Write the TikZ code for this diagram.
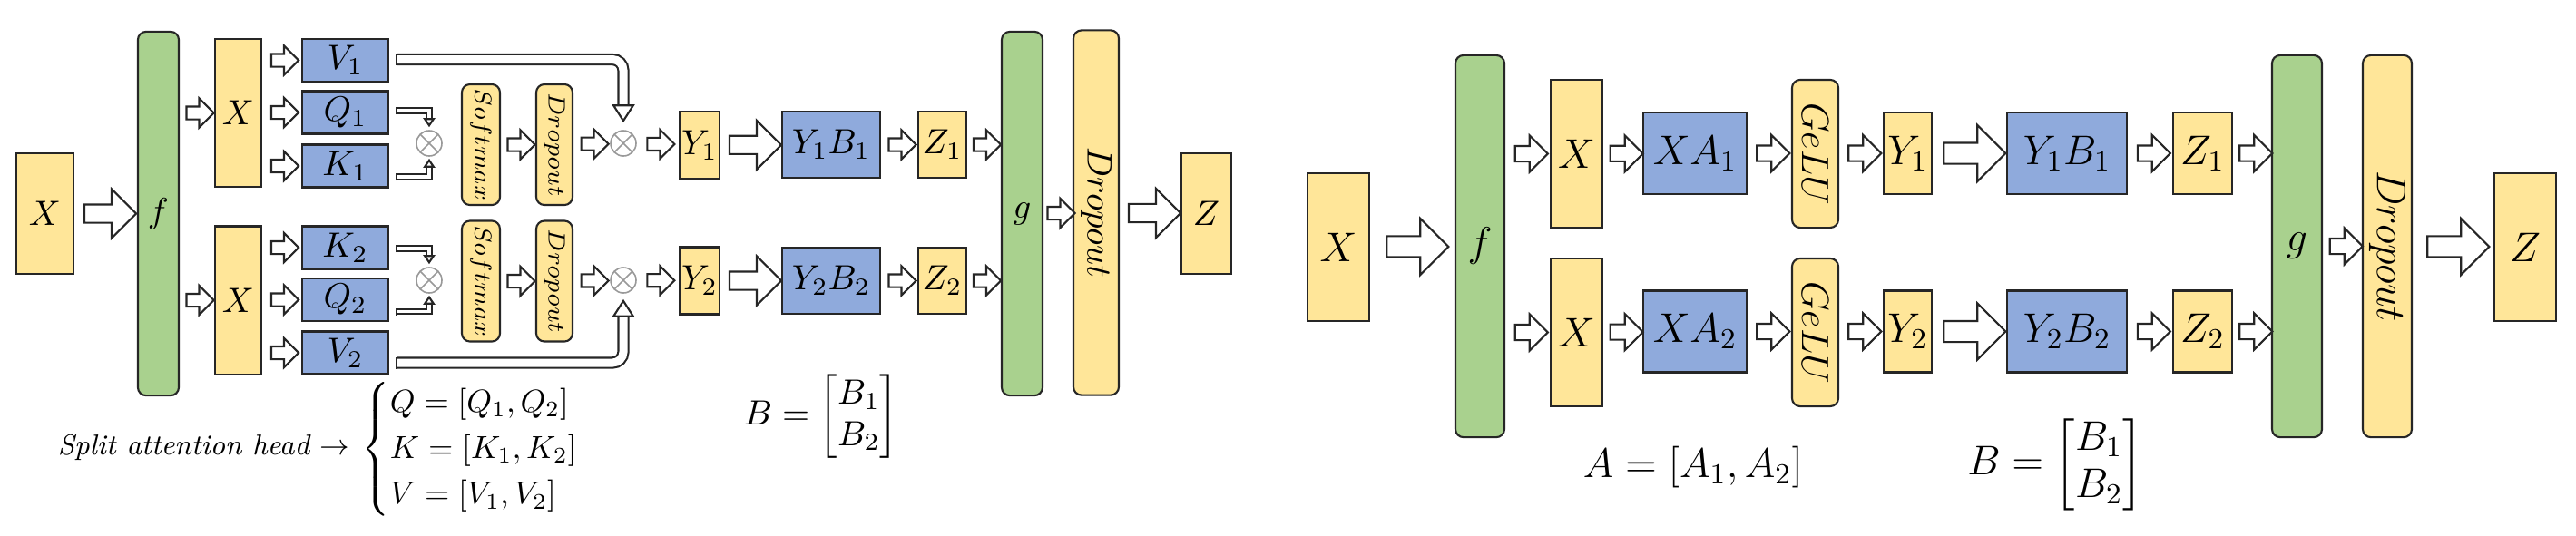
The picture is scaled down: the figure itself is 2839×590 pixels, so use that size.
\documentclass[tikz,border=0pt]{standalone}
\usepackage{fix-cm}
\usepackage{amsmath}
\usepackage{graphicx}
\usepackage{tikz}
\usetikzlibrary{shapes.arrows,arrows.meta,calc}

\definecolor{boxyellow}{HTML}{FFE699}
\definecolor{boxblue}{HTML}{8FAADC}
\definecolor{boxgreen}{HTML}{A9D18E}
\definecolor{edge}{HTML}{262626}

\newcommand{\lsize}{\fontsize{11}{13}\selectfont}
\newcommand{\rsize}{\fontsize{13}{15}\selectfont}
\newcommand{\vtxt}[1]{\rotatebox{-90}{$#1$}}

\begin{document}
\begin{tikzpicture}[
  x=0.01cm, y=-0.01cm,
  sz/.style 2 args={minimum width=#1cm, minimum height=#2cm},
  cell/.style={draw=edge, line width=0.6pt, inner sep=0pt, font=\lsize},
  ybox/.style={cell, fill=boxyellow},
  bbox/.style={cell, fill=boxblue},
  gbar/.style={cell, fill=boxgreen, rounded corners=0.09cm},
  ybar/.style={cell, fill=boxyellow, rounded corners=0.09cm},
  big/.style={font=\rsize},
  mult/.style={circle, draw=gray!80, line width=0.45pt, minimum size=0.28cm, inner sep=0pt,
    path picture={\draw[gray!80, line width=0.45pt]
      (path picture bounding box.south west) -- (path picture bounding box.north east)
      (path picture bounding box.north west) -- (path picture bounding box.south east);}},
  harr/.style={single arrow, draw=edge, fill=white, line width=0.6pt, inner xsep=0pt},
  sarr/.style={harr, minimum height=0.30cm, inner ysep=0.06cm, single arrow head extend=0.09cm},
  barr/.style={harr, minimum height=0.57cm, inner ysep=0.09cm, single arrow head extend=0.17cm},
  sarrr/.style={harr, minimum height=0.36cm, inner ysep=0.075cm, single arrow head extend=0.115cm},
  barrr/.style={harr, minimum height=0.68cm, inner ysep=0.105cm, single arrow head extend=0.195cm},
  vlink/.style={draw=edge, line width=0.6pt, double=white, double distance=0.09cm, rounded corners=0.12cm,
    {Bar[width=0.13cm, line width=0.6pt]}-{Triangle[length=0.20cm, width=0.25cm, line width=0.6pt, fill=white]}},
  qklink/.style={draw=edge, line width=0.6pt, double=white, double distance=0.035cm,
    {Bar[width=0.08cm, line width=0.6pt]}-{Triangle[length=0.10cm, width=0.13cm, line width=0.6pt, fill=white]}}
]
\useasboundingbox (0,0) rectangle (2839,590);

% split attention heads
\node[ybox, sz={0.63}{1.33}] (xin) at (49.5,235.5) {$X$};
\node[gbar, sz={0.45}{4.01}] (f) at (174.5,235.5) {$f$};
\node[ybox, sz={0.51}{1.63}] (xu) at (262.5,124.5) {$X$};
\node[ybox, sz={0.51}{1.63}] (xl) at (262.5,331) {$X$};
\node[bbox, sz={0.95}{0.47}] (v1) at (380.5,66.5) {$V_1$};
\node[bbox, sz={0.95}{0.47}] (q1) at (380.5,124) {$Q_1$};
\node[bbox, sz={0.95}{0.47}] (k1) at (380.5,183) {$K_1$};
\node[bbox, sz={0.95}{0.47}] (k2) at (380.5,273) {$K_2$};
\node[bbox, sz={0.95}{0.47}] (q2) at (380.5,330.5) {$Q_2$};
\node[bbox, sz={0.95}{0.47}] (v2) at (380.5,389) {$V_2$};
\node[mult] (m1u) at (473,158) {};
\node[mult] (m1l) at (473,309) {};
\node[ybar, sz={0.42}{1.33}, font=\fontsize{7.5}{9}\selectfont] (sm1) at (530,159.5) {\vtxt{Softmax}};
\node[ybar, sz={0.42}{1.33}, font=\fontsize{7.5}{9}\selectfont] (sm2) at (530,310) {\vtxt{Softmax}};
\node[ybar, sz={0.40}{1.33}, font=\fontsize{7.5}{9}\selectfont] (dp1) at (611,159.5) {\vtxt{Dropout}};
\node[ybar, sz={0.40}{1.33}, font=\fontsize{7.5}{9}\selectfont] (dp2) at (611,310) {\vtxt{Dropout}};
\node[mult] (m2u) at (687,158) {};
\node[mult] (m2l) at (687,309) {};
\node[ybox, sz={0.44}{0.74}] (y1) at (771,160) {$Y_1$};
\node[ybox, sz={0.44}{0.74}] (y2) at (771,309.5) {$Y_2$};
\node[bbox, sz={1.08}{0.73}] (yb1) at (916,159.5) {$Y_1B_1$};
\node[bbox, sz={1.08}{0.73}] (yb2) at (916,309.5) {$Y_2B_2$};
\node[ybox, sz={0.53}{0.73}] (z1) at (1038.5,159.5) {$Z_1$};
\node[ybox, sz={0.53}{0.73}] (z2) at (1038.5,309.5) {$Z_2$};
\node[gbar, sz={0.45}{4.01}] (g) at (1126.5,235.5) {$g$};
\node[ybar, sz={0.50}{4.02}] (dp) at (1208,234.5) {\vtxt{Dropout}};
\node[ybox, sz={0.55}{1.33}] (z) at (1329.5,235.5) {$Z$};

\node[anchor=east, inner sep=0pt, font=\fontsize{9}{11}\selectfont\itshape] (split) at (386,493) {Split attention head $\rightarrow$};
\node[anchor=west, inner sep=0pt, font=\fontsize{10}{12}\selectfont] (qkv) at (398,495)
  {$\renewcommand{\arraystretch}{1.2}\left\{\begin{array}{@{}l@{}}
    Q=[Q_1,Q_2]\\ K=[K_1,K_2]\\ V=[V_1,V_2]\end{array}\right.$};
\node[font=\lsize] (beq) at (905,459) {$B=\begin{bmatrix}B_1\\ B_2\end{bmatrix}$};

\path (xin) -- node[barr]{} (f);
\path (f.east |- xu) -- node[sarr]{} (xu);
\path (f.east |- xl) -- node[sarr]{} (xl);
\foreach \a/\b in {xu/v1, xu/q1, xu/k1, xl/k2, xl/q2, xl/v2}
  \path (\a.east |- \b) -- node[sarr]{} (\b);
\draw[qklink, shorten >=0.03cm] ($(q1.east)+(7,-2)$) -| (m1u.north);
\draw[qklink, shorten >=0.02cm] ($(k1.east)+(7,12)$) -| (m1u.south);
\draw[qklink, shorten >=0.03cm] ($(k2.east)+(7,1)$) -| (m1l.north);
\draw[qklink, shorten >=0.02cm] ($(q2.east)+(7,13)$) -| (m1l.south);
\draw[vlink, shorten >=0.08cm] ($(v1.east)+(7,-1)$) -| (m2u.north);
\draw[vlink, shorten >=0.06cm] ($(v2.east)+(7,11)$) -| (m2l.south);
\foreach \i in {1,2} {
  \path (sm\i) -- node[sarr]{} (dp\i);
  \path (y\i) -- node[barr]{} (yb\i);
  \path (yb\i) -- node[sarr]{} (z\i);
  \path (z\i) -- node[sarr]{} (g.west |- z\i);
}
\path (dp1) -- node[sarr]{} (m2u);
\path (dp2) -- node[sarr]{} (m2l);
\path (m2u) -- node[sarr]{} (y1);
\path (m2l) -- node[sarr]{} (y2);
\path (g) -- node[sarr]{} (dp);
\path (dp) -- node[barr]{} (z);

% split MLP
\node[ybox, big, sz={0.68}{1.63}] (rxin) at (1475,272.5) {$X$};
\node[gbar, big, sz={0.54}{4.21}] (rf) at (1631,271.5) {$f$};
\node[ybox, big, sz={0.57}{1.63}] (rxu) at (1737.5,169.5) {$X$};
\node[ybox, big, sz={0.57}{1.63}] (rxl) at (1737.5,366.5) {$X$};
\node[bbox, big, sz={1.14}{0.90}] (xa1) at (1868,169) {$XA_1$};
\node[bbox, big, sz={1.14}{0.90}] (xa2) at (1868,365.5) {$XA_2$};
\node[ybar, sz={0.51}{1.63}, font=\fontsize{12}{14}\selectfont] (ge1) at (2000.5,169.5) {\vtxt{GeLU}};
\node[ybar, sz={0.51}{1.63}, font=\fontsize{12}{14}\selectfont] (ge2) at (2000.5,366.5) {\vtxt{GeLU}};
\node[ybox, big, sz={0.53}{0.90}] (ry1) at (2102.5,169) {$Y_1$};
\node[ybox, big, sz={0.53}{0.90}] (ry2) at (2102.5,365.5) {$Y_2$};
\node[bbox, big, sz={1.32}{0.90}] (ryb1) at (2278,169) {$Y_1B_1$};
\node[bbox, big, sz={1.32}{0.90}] (ryb2) at (2278,365.5) {$Y_2B_2$};
\node[ybox, big, sz={0.65}{0.90}] (rz1) at (2427.5,169) {$Z_1$};
\node[ybox, big, sz={0.65}{0.90}] (rz2) at (2427.5,365.5) {$Z_2$};
\node[gbar, big, sz={0.55}{4.21}] (rg) at (2531.5,271.5) {$g$};
\node[ybar, big, sz={0.54}{4.21}] (rdp) at (2631,271.5) {\vtxt{Dropout}};
\node[ybox, big, sz={0.68}{1.63}] (rz) at (2783,272.5) {$Z$};

\node[big] (aeq) at (1866,515) {$A=[A_1,A_2]$};
\node[big] (rbeq) at (2265,512) {$B=\begin{bmatrix}B_1\\ B_2\end{bmatrix}$};

\path (rxin) -- node[barrr]{} (rf);
\path (rf.east |- rxu) -- node[sarrr]{} (rxu);
\path (rf.east |- rxl) -- node[sarrr]{} (rxl);
\foreach \i/\x in {1/rxu, 2/rxl} {
  \path (\x) -- node[sarrr]{} (xa\i);
  \path (xa\i) -- node[sarrr]{} (ge\i.west |- xa\i);
  \path (ge\i.east |- ry\i) -- node[sarrr]{} (ry\i);
  \path (ry\i) -- node[barrr]{} (ryb\i);
  \path (ryb\i) -- node[sarrr]{} (rz\i);
  \path (rz\i) -- node[sarrr]{} (rg.west |- rz\i);
}
\path (rg) -- node[sarrr]{} (rdp);
\path (rdp) -- node[barrr]{} (rz);
\end{tikzpicture}
\end{document}
